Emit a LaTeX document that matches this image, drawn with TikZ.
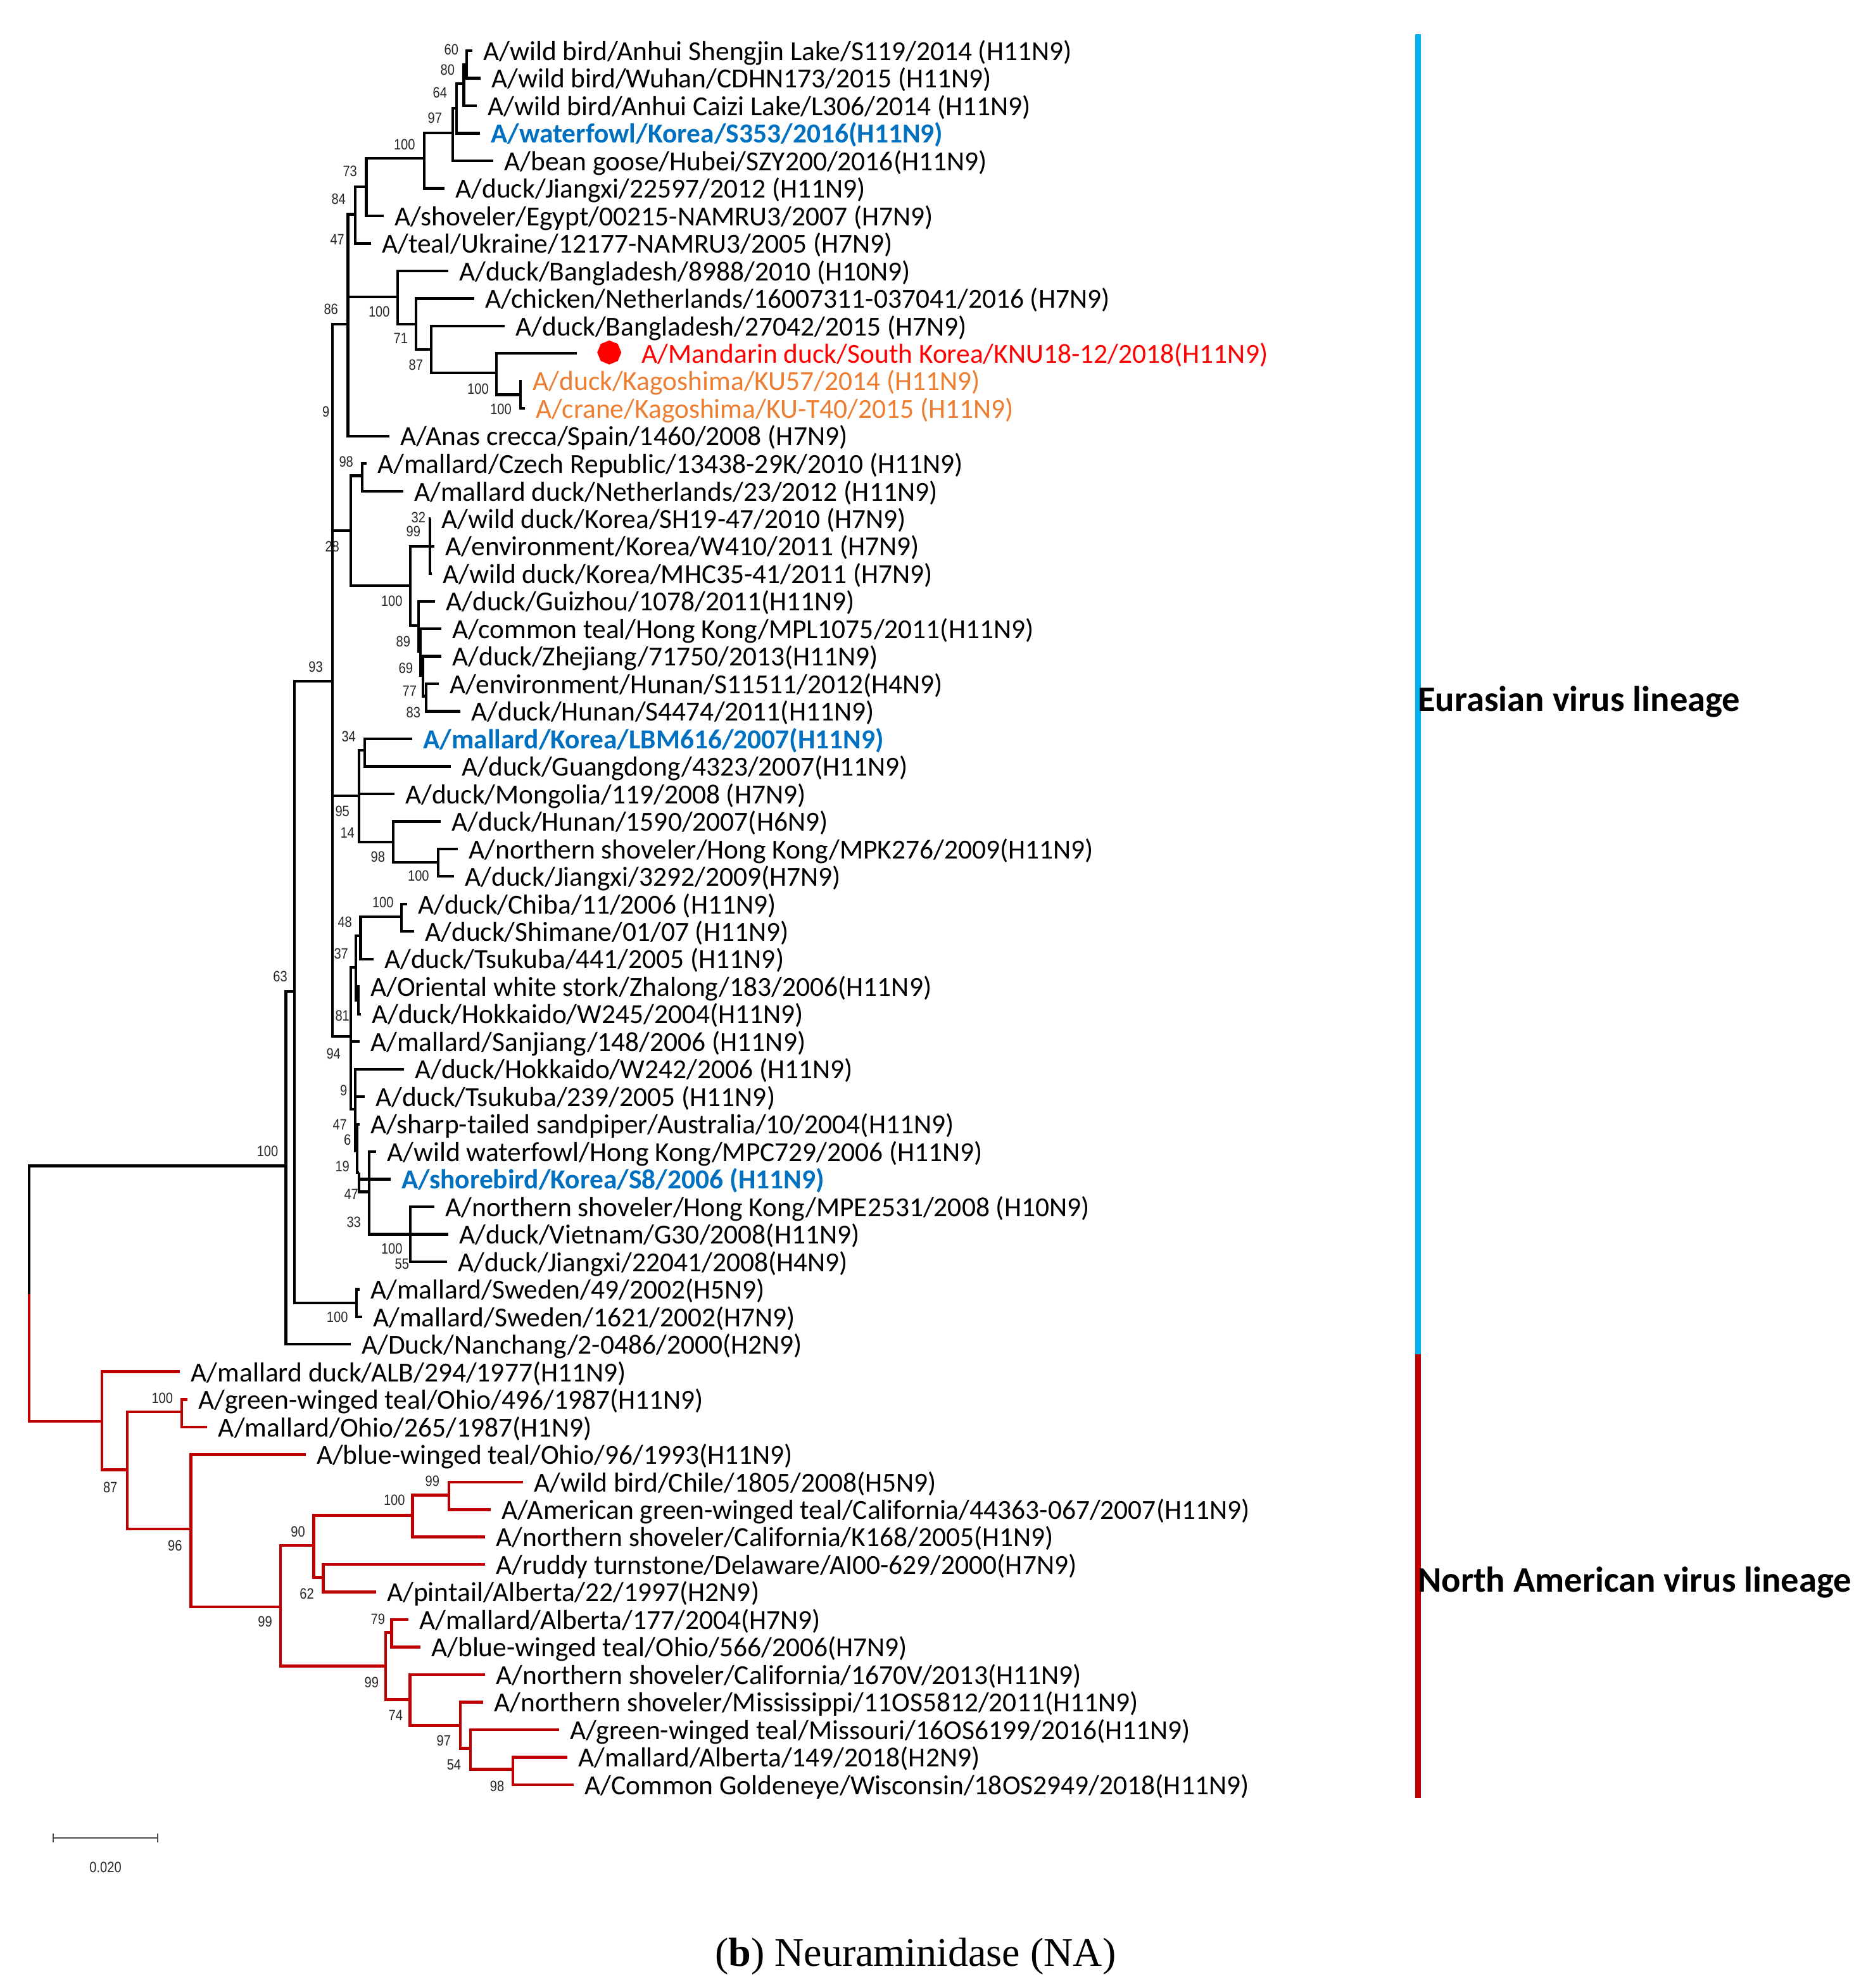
\documentclass[tikz,border=0pt]{standalone}
\usepackage{fontspec}
\usepackage{tikz}
\usetikzlibrary{arrows.meta}
\usetikzlibrary{shapes.geometric}

\newfontfamily\carlito{Carlito}
\newfontfamily\bsfam[FakeStretch=0.85]{Liberation Sans}
\newfontfamily\capfam{Liberation Serif}
\newcommand{\tipfont}{\carlito\fontsize{21.7pt}{24pt}\selectfont}
\newcommand{\bsfont}{\bsfam\fontsize{11.8pt}{13pt}\selectfont}

\definecolor{nared}{HTML}{C00000}
\definecolor{linblue}{HTML}{00B0F0}
\definecolor{korblue}{HTML}{0070C0}
\definecolor{kagorange}{HTML}{ED7D31}
\definecolor{mandred}{HTML}{FF0000}

\tikzset{
tip/.style={anchor=west, inner xsep=8.5pt, inner ysep=0pt, text height=19.5pt, text depth=4.3pt, font=\tipfont},
kor/.style={tip, text=korblue, font=\tipfont\bfseries},
kag/.style={tip, text=kagorange},
bs/.style={inner sep=0pt, font=\bsfont, text=black!85},
eabr/.style={line width=2.1pt, black},
nabr/.style={line width=2.3pt, nared},
lin/.style={anchor=base west, inner sep=0pt, font=\carlito\bfseries\fontsize{28.3pt}{30pt}\selectfont},
}

\begin{document}
\begin{tikzpicture}[x=1pt,y=-1pt]
\useasboundingbox (0,0) rectangle (1477,1568);

\node[tip] (t1) at (372.5,40.0) {A/wild bird/Anhui Shengjin Lake/S119/2014 (H11N9)};
\node[tip] (t2) at (379,61.7) {A/wild bird/Wuhan/CDHN173/2015 (H11N9)};
\node[tip] (t3) at (376,83.4) {A/wild bird/Anhui Caizi Lake/L306/2014 (H11N9)};
\node[kor] (t4) at (378.5,105.1) {A/waterfowl/Korea/S353/2016(H11N9)};
\node[tip] (t5) at (389,126.8) {A/bean goose/Hubei/SZY200/2016(H11N9)};
\node[tip] (t6) at (350.5,148.6) {A/duck/Jiangxi/22597/2012 (H11N9)};
\node[tip] (t7) at (302.5,170.3) {A/shoveler/Egypt/00215-NAMRU3/2007 (H7N9)};
\node[tip] (t8) at (292.5,192.0) {A/teal/Ukraine/12177-NAMRU3/2005 (H7N9)};
\node[tip] (t9) at (353.5,213.7) {A/duck/Bangladesh/8988/2010 (H10N9)};
\node[tip] (t10) at (374,235.4) {A/chicken/Netherlands/16007311-037041/2016 (H7N9)};
\node[tip] (t11) at (398,257.1) {A/duck/Bangladesh/27042/2015 (H7N9)};
\node[tip, text=mandred, inner xsep=51pt] (t12) at (455,278.8) {A/Mandarin duck/South Korea/KNU18-12/2018(H11N9)};
\node[kag] (t13) at (411.5,300.5) {A/duck/Kagoshima/KU57/2014 (H11N9)};
\node[kag] (t14) at (414,322.2) {A/crane/Kagoshima/KU-T40/2015 (H11N9)};
\node[tip] (t15) at (307,343.9) {A/Anas crecca/Spain/1460/2008 (H7N9)};
\node[tip] (t16) at (289,365.7) {A/mallard/Czech Republic/13438-29K/2010 (H11N9)};
\node[tip] (t17) at (318,387.4) {A/mallard duck/Netherlands/23/2012 (H11N9)};
\node[tip] (t18) at (339.5,409.1) {A/wild duck/Korea/SH19-47/2010 (H7N9)};
\node[tip] (t19) at (342.5,430.8) {A/environment/Korea/W410/2011 (H7N9)};
\node[tip] (t20) at (340.5,452.5) {A/wild duck/Korea/MHC35-41/2011 (H7N9)};
\node[tip] (t21) at (343,474.2) {A/duck/Guizhou/1078/2011(H11N9)};
\node[tip] (t22) at (348,495.9) {A/common teal/Hong Kong/MPL1075/2011(H11N9)};
\node[tip] (t23) at (348,517.6) {A/duck/Zhejiang/71750/2013(H11N9)};
\node[tip] (t24) at (346,539.3) {A/environment/Hunan/S11511/2012(H4N9)};
\node[tip] (t25) at (363,561.0) {A/duck/Hunan/S4474/2011(H11N9)};
\node[kor] (t26) at (325,582.7) {A/mallard/Korea/LBM616/2007(H11N9)};
\node[tip] (t27) at (355.5,604.5) {A/duck/Guangdong/4323/2007(H11N9)};
\node[tip] (t28) at (311,626.2) {A/duck/Mongolia/119/2008 (H7N9)};
\node[tip] (t29) at (347.5,647.9) {A/duck/Hunan/1590/2007(H6N9)};
\node[tip] (t30) at (361,669.6) {A/northern shoveler/Hong Kong/MPK276/2009(H11N9)};
\node[tip] (t31) at (358,691.3) {A/duck/Jiangxi/3292/2009(H7N9)};
\node[tip] (t32) at (321,713.0) {A/duck/Chiba/11/2006 (H11N9)};
\node[tip] (t33) at (326.5,734.7) {A/duck/Shimane/01/07 (H11N9)};
\node[tip] (t34) at (294.5,756.4) {A/duck/Tsukuba/441/2005 (H11N9)};
\node[tip] (t35) at (283.5,778.1) {A/Oriental white stork/Zhalong/183/2006(H11N9)};
\node[tip] (t36) at (284.5,799.8) {A/duck/Hokkaido/W245/2004(H11N9)};
\node[tip] (t37) at (283.5,821.5) {A/mallard/Sanjiang/148/2006 (H11N9)};
\node[tip] (t38) at (318.5,843.3) {A/duck/Hokkaido/W242/2006 (H11N9)};
\node[tip] (t39) at (287.5,865.0) {A/duck/Tsukuba/239/2005 (H11N9)};
\node[tip] (t40) at (283.5,886.7) {A/sharp-tailed sandpiper/Australia/10/2004(H11N9)};
\node[tip] (t41) at (296.5,908.4) {A/wild waterfowl/Hong Kong/MPC729/2006 (H11N9)};
\node[kor] (t42) at (308,930.1) {A/shorebird/Korea/S8/2006 (H11N9)};
\node[tip] (t43) at (342.5,951.8) {A/northern shoveler/Hong Kong/MPE2531/2008 (H10N9)};
\node[tip] (t44) at (353.5,973.5) {A/duck/Vietnam/G30/2008(H11N9)};
\node[tip] (t45) at (352.5,995.2) {A/duck/Jiangxi/22041/2008(H4N9)};
\node[tip] (t46) at (283.5,1016.9) {A/mallard/Sweden/49/2002(H5N9)};
\node[tip] (t47) at (285.5,1038.6) {A/mallard/Sweden/1621/2002(H7N9)};
\node[tip] (t48) at (276.5,1060.3) {A/Duck/Nanchang/2-0486/2000(H2N9)};
\node[tip] (t49) at (142,1082.0) {A/mallard duck/ALB/294/1977(H11N9)};
\node[tip] (t50) at (148,1103.7) {A/green-winged teal/Ohio/496/1987(H11N9)};
\node[tip] (t51) at (163.5,1125.5) {A/mallard/Ohio/265/1987(H1N9)};
\node[tip] (t52) at (241,1147.2) {A/blue-winged teal/Ohio/96/1993(H11N9)};
\node[tip] (t53) at (412.5,1168.9) {A/wild bird/Chile/1805/2008(H5N9)};
\node[tip] (t54) at (387,1190.6) {A/American green-winged teal/California/44363-067/2007(H11N9)};
\node[tip] (t55) at (382.5,1212.3) {A/northern shoveler/California/K168/2005(H1N9)};
\node[tip] (t56) at (382.5,1234.0) {A/ruddy turnstone/Delaware/AI00-629/2000(H7N9)};
\node[tip] (t57) at (296.5,1255.7) {A/pintail/Alberta/22/1997(H2N9)};
\node[tip] (t58) at (322,1277.4) {A/mallard/Alberta/177/2004(H7N9)};
\node[tip] (t59) at (331.5,1299.1) {A/blue-winged teal/Ohio/566/2006(H7N9)};
\node[tip] (t60) at (382.5,1320.8) {A/northern shoveler/California/1670V/2013(H11N9)};
\node[tip] (t61) at (381,1342.5) {A/northern shoveler/Mississippi/11OS5812/2011(H11N9)};
\node[tip] (t62) at (441,1364.3) {A/green-winged teal/Missouri/16OS6199/2016(H11N9)};
\node[tip] (t63) at (447.5,1386.0) {A/mallard/Alberta/149/2018(H2N9)};
\node[tip] (t64) at (452.5,1407.7) {A/Common Goldeneye/Wisconsin/18OS2949/2018(H11N9)};

\node[regular polygon, regular polygon sides=8, shape border rotate=22.5, fill=mandred, inner sep=0pt, minimum size=19pt] (mdot) at (480.5,278) {};

\coordinate (n60) at (368,51);
\coordinate (n80) at (365.8,65.8);
\coordinate (n64) at (360.2,85.2);
\coordinate (n97) at (356.9,104.9);
\coordinate (n100a) at (334.6,124.9);
\coordinate (n73) at (288.9,147.3);
\coordinate (n84) at (280,169);
\coordinate (n47) at (274.4,201);
\coordinate (n86) at (274.4,255.5);
\coordinate (n100b) at (313.4,234.3);
\coordinate (nX) at (327.9,255.5);
\coordinate (nY) at (340.1,275.5);
\coordinate (nZ) at (391.4,294);
\coordinate (nK) at (410.3,311.3);
\coordinate (n9) at (262.3,337);
\coordinate (n28) at (276.6,418.6);
\coordinate (n98) at (285.5,375.3);
\coordinate (nN) at (323.4,461.9);
\coordinate (nT) at (339,430.8);
\coordinate (n100c) at (330.1,493.5);
\coordinate (n89) at (331.5,514);
\coordinate (n69) at (333.5,533);
\coordinate (n77) at (336,549);
\coordinate (n93) at (262.3,537.5);
\coordinate (nL) at (262.3,722);
\coordinate (n14) at (283.3,627.5);
\coordinate (n34) at (287.8,591.7);
\coordinate (n98b) at (310,664.1);
\coordinate (n100d) at (345.7,680);
\coordinate (n94) at (276.6,817.3);
\coordinate (n37) at (280.5,763.2);
\coordinate (n48) at (284.4,738.2);
\coordinate (n100e) at (316.7,723);
\coordinate (n81) at (282.5,789);
\coordinate (n9b) at (280,874.7);
\coordinate (n6) at (281.5,908);
\coordinate (n19) at (283.3,925);
\coordinate (n33) at (291,940);
\coordinate (n100g) at (323.4,973.5);
\coordinate (n100f) at (281.1,1027.5);
\coordinate (n63) at (232.1,782);
\coordinate (n100r) at (225.5,919.6);
\coordinate (root) at (22.9,1020.5);
\coordinate (nNA) at (80.3,1121);
\coordinate (n87) at (100.3,1159.3);
\coordinate (n100i) at (143.3,1113.5);
\coordinate (n96) at (150.5,1205.9);
\coordinate (n99) at (221.3,1267.4);
\coordinate (n90) at (247.5,1219);
\coordinate (n100h) at (325.3,1195.1);
\coordinate (n99c) at (354,1179.3);
\coordinate (n62) at (254.8,1244.1);
\coordinate (n99b) at (304.1,1314);
\coordinate (n79) at (308.9,1287.5);
\coordinate (n74) at (323.2,1340.6);
\coordinate (n97b) at (363.1,1361);
\coordinate (n54) at (371,1379);
\coordinate (n98c) at (404.5,1395.6);

\foreach \p/\c in {n60/t1,n60/t2,n80/n60,n80/t3,n64/n80,n64/t4,n97/n64,n97/t5,n100a/n97,n100a/t6,
  n73/n100a,n73/t7,n84/n73,n84/t8,n47/n84,n47/n100b,n100b/t9,n100b/nX,nX/t10,nX/nY,nY/t11,nY/nZ,
  nZ/t12,nZ/nK,nK/t13,nK/t14,n86/n47,n86/t15,n9/n86,n9/n28,n28/n98,n98/t16,n98/t17,n28/nN,nN/nT,
  nT/t18,nT/t19,nT/t20,nN/n100c,n100c/t21,n100c/n89,n89/t22,n89/n69,n69/t23,n69/n77,n77/t24,n77/t25,
  n93/n9,n93/nL,nL/n14,n14/n34,n34/t26,n34/t27,n14/t28,n14/n98b,n98b/t29,n98b/n100d,n100d/t30,
  n100d/t31,nL/n94,n94/n37,n37/n48,n48/n100e,n100e/t32,n100e/t33,n48/t34,n37/n81,n81/t35,n81/t36,
  n94/t37,n94/n9b,n9b/t38,n9b/t39,n9b/n6,n6/t40,n6/n19,n19/t42,n19/n33,n33/t41,n33/n100g,
  n100g/t43,n100g/t44,n100g/t45,n63/n93,n63/n100f,n100f/t46,n100f/t47,n100r/n63,n100r/t48,root/n100r}
  \draw[eabr] (\p) |- (\c);

\foreach \p/\c in {root/nNA,nNA/t49,nNA/n87,n87/n100i,n100i/t50,n100i/t51,n87/n96,n96/t52,n96/n99,
  n99/n90,n90/n100h,n100h/n99c,n99c/t53,n99c/t54,n100h/t55,n90/n62,n62/t56,n62/t57,n99/n99b,
  n99b/n79,n79/t58,n79/t59,n99b/n74,n74/t60,n74/n97b,n97b/t61,n97b/n54,n54/t62,n54/n98c,
  n98c/t63,n98c/t64}
  \draw[nabr] (\p) |- (\c);

\foreach \v/\x/\y [count=\i] in {60/356/39,80/353/55,64/347/73,97/343/93,100/319/114,73/276/135,
  84/267/157,47/266/189,86/261/244,100/299/246,71/316/267,87/328/288,100/377/307,100/395/323,
  9/257/325,98/273/364,32/330/408,99/326/419,28/262/431,100/309/474,89/318/506,69/320/527,
  77/323/545,83/326/562,93/249/526,34/275/581,95/270/640,14/274/657,98/298/676,100/330/691,
  63/221/770,100/302/712,48/272/727,37/269/752,81/270/801,94/263/831,9/271/860,47/268/887,
  6/274/899,19/270/920,47/277/942,33/279/964,100/211/908,100/309/985,55/317/997,100/266/1039,
  100/128/1103,87/87/1173,96/138/1219,99/341/1168,100/311/1183,90/235/1208,62/242/1257,
  99/209/1279,79/298/1277,99/293/1327,74/312/1353,97/350/1373,54/358/1392,98/392/1409}
  \node[bs] (bs\i) at (\x,\y) {\v};

\coordinate (eatop) at (1118.5,27);
\coordinate (eabot) at (1118.5,1068.2);
\coordinate (nabot) at (1118.5,1418);
\draw[line width=4.4pt, linblue] (eatop) -- (eabot);
\draw[line width=4.4pt, nared] (eabot) -- (nabot);
\node[lin] (ealab) at (1118,560.9) {Eurasian virus lineage};
\node[lin] (nalab) at (1118,1255.8) {North American virus lineage};

\coordinate (sbl) at (41.3,1449.7);
\coordinate (sbr) at (124.8,1449.7);
\draw[line width=1.1pt, black!70, {Bar[width=7pt]}-{Bar[width=7pt]}] (sbl) -- (sbr);
\node[bs] (sblab) at (83.2,1473) {0.020};

\node[anchor=base, inner sep=0pt, font=\capfam\fontsize{32pt}{35pt}\selectfont] (cap) at (722,1551) {(\textbf{b}) Neuraminidase (NA)};
\end{tikzpicture}
\end{document}
